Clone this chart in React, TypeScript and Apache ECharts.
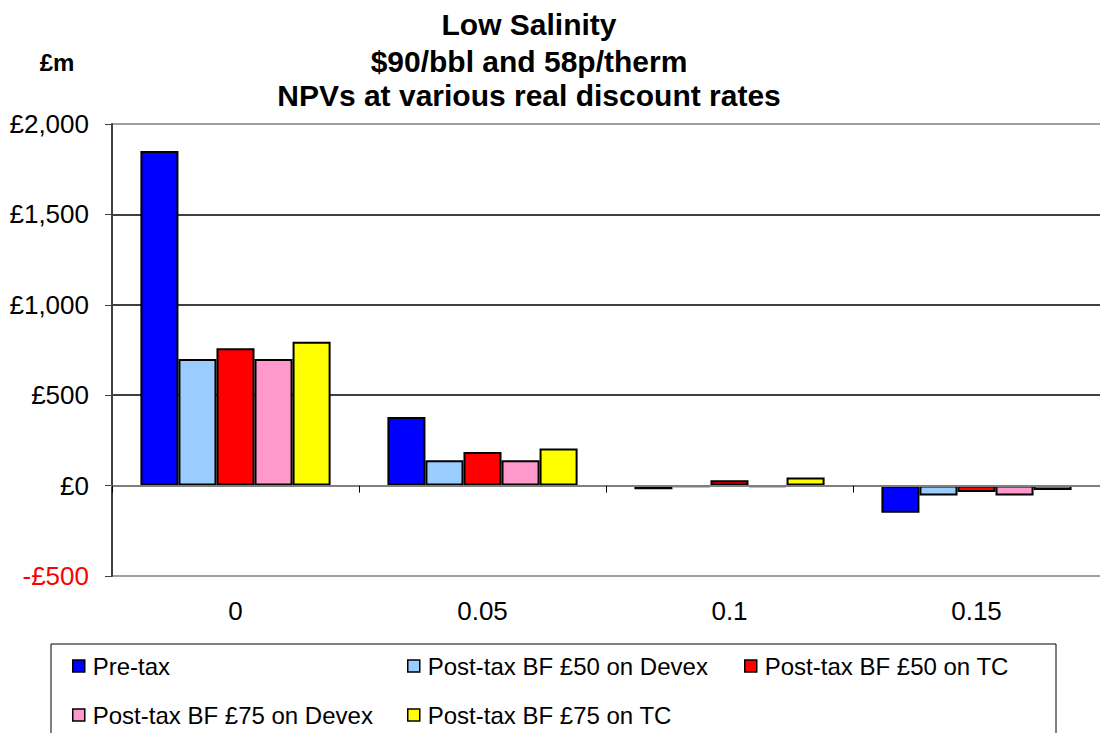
import React, { useEffect, useRef } from "react";
import * as echarts from "echarts";

const categories = ["0", "0.05", "0.1", "0.15"];
const seriesNames = [
  "Pre-tax",
  "Post-tax BF £50 on Devex",
  "Post-tax BF £50 on TC",
  "Post-tax BF £75 on Devex",
  "Post-tax BF £75 on TC",
];
const preTax = [1850, 380, -20, -150];
const postTax50Devex = [700, 140, -8, -55];
const postTax50TC = [760, 186, 30, -35];
const postTax75Devex = [700, 140, -8, -55];
const postTax75TC = [795, 205, 45, -24];
const titleLines = ["Low Salinity", "$90/bbl and 58p/therm", "NPVs at various real discount rates"];
const unitLabel = "£m";

const seriesValues = [preTax, postTax50Devex, postTax50TC, postTax75Devex, postTax75TC];
const seriesColors = ["#0000FF", "#99CCFF", "#FF0000", "#FF99CC", "#FFFF00"];
const FONT = "'Liberation Sans', Arial, sans-serif";

function fmt(v: number): string {
  const s = String(Math.abs(v)).replace(/\B(?=(\d{3})+(?!\d))/g, ",");
  return (v < 0 ? "-" : "") + "£" + s;
}

export default function App() {
  const ref = useRef<HTMLDivElement>(null);
  useEffect(() => {
    if (!ref.current) return;
    const chart = echarts.init(ref.current, null, { renderer: "svg" });
    const legendPos = [
      { left: 72, top: 654 },
      { left: 407, top: 654 },
      { left: 744, top: 654 },
      { left: 72, top: 703 },
      { left: 407, top: 703 },
    ];
    const titleY = [24.5, 61.5, 95.5];
    chart.setOption({
      animation: false,
      textStyle: { fontFamily: FONT },
      grid: {
        left: 112,
        top: 124,
        width: 993,
        height: 452,
        show: false,
      },
      xAxis: [
        {
          type: "category",
          data: categories,
          position: "bottom",
          boundaryGap: true,
          axisLine: { show: true, onZero: true, lineStyle: { color: "#808080", width: 2 } },
          axisTick: { show: true, length: 7, lineStyle: { color: "#000", width: 1 } },
          axisLabel: { show: false },
          splitLine: { show: false },
          z: 5,
        },
        {
          type: "category",
          data: categories,
          position: "bottom",
          axisLine: { show: false, onZero: false },
          axisTick: { show: false },
          axisLabel: { show: true, margin: 22, fontSize: 26, color: "#000", fontFamily: FONT },
          splitLine: { show: false },
        },
      ],
      yAxis: {
        type: "value",
        min: -500,
        max: 2000,
        interval: 500,
        axisLine: { show: true, onZero: false, lineStyle: { color: "#404040", width: 2 } },
        axisTick: { show: true, length: 7, lineStyle: { color: "#404040", width: 1 } },
        axisLabel: {
          margin: 23,
          fontSize: 26,
          fontFamily: FONT,
          formatter: (v: number) => fmt(v),
          color: (v: any) => (Number(v) < 0 ? "#FF0000" : "#000"),
        },
        splitLine: {
          show: true,
          showMinLine: true,
          showMaxLine: true,
          lineStyle: {
            color: ["#808080", "#000", "#000", "#000", "#000", "#808080"],
            width: 1.5,
          },
        },
      },
      legend: seriesNames.map((name, i) => ({
        data: [name],
        left: legendPos[i].left,
        top: legendPos[i].top,
        padding: 0,
        icon: "rect",
        itemWidth: 12,
        itemHeight: 12,
        selectedMode: false,
        itemStyle: { borderColor: "#000", borderWidth: 1.5 },
        textStyle: { fontSize: 24, color: "#000", fontFamily: FONT, padding: [0, 0, 0, 3] },
      })),
      graphic: [
        ...titleLines.map((t, i) => ({
          type: "text",
          x: 529,
          y: titleY[i],
          style: {
            text: t,
            font: `bold 30px ${FONT}`,
            fill: "#000",
            textAlign: "center",
            textVerticalAlign: "middle",
            align: "center",
            verticalAlign: "middle",
          },
        })),
        {
          type: "text",
          x: 57,
          y: 62,
          style: {
            text: unitLabel,
            font: `bold 24px ${FONT}`,
            fill: "#000",
            textAlign: "center",
            textVerticalAlign: "middle",
            align: "center",
            verticalAlign: "middle",
          },
        },
        {
          type: "rect",
          shape: { x: 51, y: 644, width: 1005, height: 120 },
          style: { fill: "none", stroke: "#000", lineWidth: 1 },
          z: -1,
        },
      ],
      series: seriesNames.map((name, i) => ({
        name,
        type: "bar",
        xAxisIndex: 0,
        data: seriesValues[i],
        barGap: "0%",
        barCategoryGap: "23%",
        itemStyle: { color: seriesColors[i], borderColor: "#000", borderWidth: 2 },
      })),
    });
    return () => chart.dispose();
  }, []);
  return (
    <div
      ref={ref}
      style={{ position: "absolute", left: 0, top: 0, width: 1100, height: 733, background: "#fff" }}
    />
  );
}
